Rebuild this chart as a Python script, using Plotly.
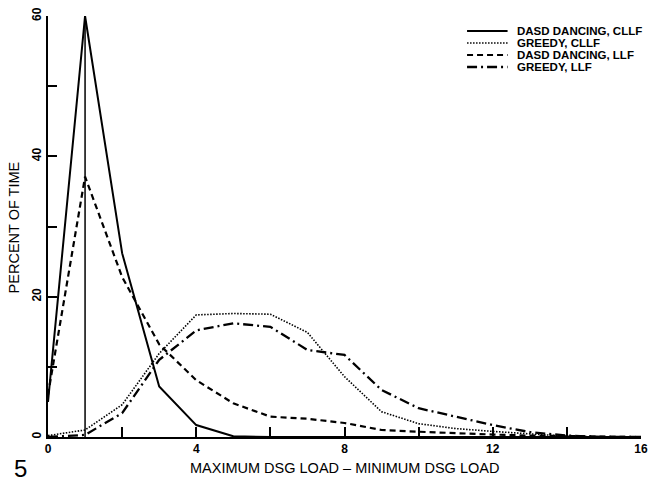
import plotly.graph_objects as go

# ---------------- data ----------------
load_diff = list(range(0, 17))
dasd_cllf = [5, 60, 26.2, 7.2, 1.7, 0.1, 0, 0, 0, 0, 0, 0, 0, 0, 0, 0, 0]
greedy_cllf = [0.2, 1.0, 4.6, 11.9, 17.4, 17.6, 17.5, 14.9, 8.6, 3.6, 1.9, 1.2, 0.8, 0.4, 0.1, 0, 0]
dasd_llf = [6, 37.1, 22.8, 13.2, 8.1, 4.8, 2.9, 2.6, 2.0, 1.0, 0.75, 0.5, 0.35, 0.2, 0.1, 0, 0]
greedy_llf = [0, 0.3, 3.4, 11.0, 15.2, 16.2, 15.7, 12.4, 11.7, 6.7, 4.1, 2.9, 1.7, 0.7, 0.2, 0, 0]

series_names = ["DASD DANCING, CLLF", "GREEDY, CLLF", "DASD DANCING, LLF", "GREEDY, LLF"]
x_tick_vals = [0, 2, 4, 6, 8, 10, 12, 14, 16]
x_tick_text = ["0", "", "4", "", "8", "", "12", "", "16"]
y_tick_vals = [0, 10, 20, 30, 40, 50, 60]
y_tick_text = ["0", "", "20", "", "40", "", "60"]

# ---------------- geometry helpers (pixels -> paper) ----------------
W, H = 655, 485
L, R, T, B = 48, 7, 16, 48
PW, PH = W - L - R, H - T - B


def px(xp):
    return (xp - L) / PW


def py(yp):
    return (H - B - yp) / PH


styles = [
    dict(dash="solid", width=2),
    dict(dash="1.5px,1.5px", width=1.6),
    dict(dash="6px,4px", width=2.2),
    dict(dash="10px,4px,2px,4px", width=2.3),
]
series = [dasd_cllf, greedy_cllf, dasd_llf, greedy_llf]

fig = go.Figure()
for name, ys, st in zip(series_names, series, styles):
    fig.add_trace(go.Scatter(
        x=load_diff, y=ys, mode="lines", name=name,
        line=dict(color="black", width=st["width"], dash=st["dash"]),
        showlegend=False, cliponaxis=False,
    ))

# vertical drop line at the peak of DASD DANCING, CLLF
peak_i = dasd_cllf.index(max(dasd_cllf))
fig.add_trace(go.Scatter(
    x=[load_diff[peak_i], load_diff[peak_i]], y=[0, dasd_cllf[peak_i]],
    mode="lines", line=dict(color="black", width=1.5), showlegend=False,
))

# manual legend
leg_font = dict(family="Liberation Sans, Arial", size=11.5, color="black")
for i, (name, st) in enumerate(zip(series_names, styles)):
    yy = 31 + 12 * i
    fig.add_shape(type="line", xref="paper", yref="paper",
                  x0=px(472), x1=px(513), y0=py(yy), y1=py(yy),
                  line=dict(color="black", width=st["width"], dash=st["dash"]))
    fig.add_annotation(xref="paper", yref="paper", x=px(521), y=py(yy),
                       text="<b>" + name + "</b>", showarrow=False,
                       xanchor="left", yanchor="middle", font=leg_font)

title_font = dict(family="Liberation Sans, Arial", size=14.5, color="black")
fig.add_annotation(xref="paper", yref="paper", x=0.5, y=py(468),
                   text="MAXIMUM DSG LOAD \u2013 MINIMUM DSG LOAD", showarrow=False,
                   xanchor="center", yanchor="middle", font=title_font)
fig.add_annotation(xref="paper", yref="paper", x=px(14), y=py(227),
                   text="PERCENT OF TIME", showarrow=False, textangle=-90,
                   xanchor="center", yanchor="middle", font=title_font)
fig.add_annotation(xref="paper", yref="paper", x=px(20), y=py(468),
                   text="5", showarrow=False,
                   xanchor="center", yanchor="middle",
                   font=dict(family="Liberation Sans, Arial", size=24, color="black"))

tick_font = dict(family="Liberation Sans, Arial", size=12, color="black")
fig.update_layout(
    width=W, height=H,
    margin=dict(l=L, r=R, t=T, b=B, pad=0),
    paper_bgcolor="white", plot_bgcolor="white",
    xaxis=dict(range=[0, 16], tickvals=x_tick_vals, ticktext=["<b>%s</b>" % t if t else "" for t in x_tick_text],
               ticks="inside", ticklen=10, tickwidth=2, tickcolor="black",
               showline=True, linewidth=2, linecolor="black", showgrid=False, zeroline=False,
               tickfont=tick_font, fixedrange=True),
    yaxis=dict(range=[0, 60], tickvals=y_tick_vals, ticktext=["<b>%s</b>" % t if t else "" for t in y_tick_text],
               ticks="inside", ticklen=9, tickwidth=2, tickcolor="black", tickangle=-90,
               showline=True, linewidth=2, linecolor="black", showgrid=False, zeroline=False,
               tickfont=tick_font, fixedrange=True),
)

fig.write_html("out.html", config={"displayModeBar": False},
               post_script="document.body.style.margin='0';")
